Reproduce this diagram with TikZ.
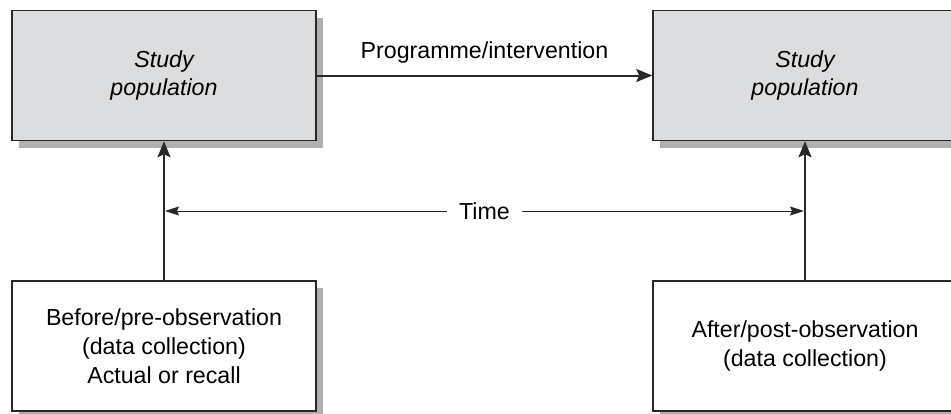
\documentclass[tikz,border=0pt]{standalone}
\usepackage{fontspec}
\setmainfont{Liberation Sans}
\usetikzlibrary{arrows.meta}
\usetikzlibrary{shadows}
\definecolor{boxgray}{RGB}{220,221,223}
\definecolor{shadowgray}{RGB}{176,176,179}
\definecolor{linegray}{RGB}{40,40,40}

\begin{document}
\begin{tikzpicture}[>={Stealth[length=16pt, width=13pt, inset=3pt]}, x=1pt, y=-1pt, font=\fontsize{23.2}{28.8}\selectfont,
	box/.style={draw=linegray, line width=1.5pt, minimum width=304pt, minimum height=130pt, inner sep=0pt, align=center, general shadow={fill=shadowgray, shadow xshift=7pt, shadow yshift=-7pt}},
	popbox/.style={box, fill=boxgray, font=\fontsize{23.2}{28.8}\selectfont\itshape},
	obsbox/.style={box, fill=white},
	flow/.style={->, line width=2pt, draw=linegray}]
	\clip (0,0) rectangle (951,413);
	\fill[white] (0,0) rectangle (951,413);
	\node[popbox] (popA) at (164,75.5) {Study\\population};
	\node[popbox] (popB) at (805,75.5) {Study\\population};
	\node[obsbox] (pre) at (164,346) {Before/pre-observation\\(data collection)\\Actual or recall};
	\node[obsbox] (post) at (805,346) {After/post-observation\\(data collection)};
	\draw[flow] (popA) -- node[above=8pt] {Programme/intervention} (popB);
	\draw[flow] (pre) -- (popA);
	\draw[flow] (post) -- (popB);
	\coordinate (tl) at (165,211);
	\coordinate (tr) at (804,211);
	\draw[{Stealth[length=14pt, width=9pt, inset=2pt]}-{Stealth[length=14pt, width=9pt, inset=2pt]}, line width=1pt, draw=linegray] (tl) -- node[fill=white, inner xsep=12pt] {Time} (tr);
\end{tikzpicture}
\end{document}
